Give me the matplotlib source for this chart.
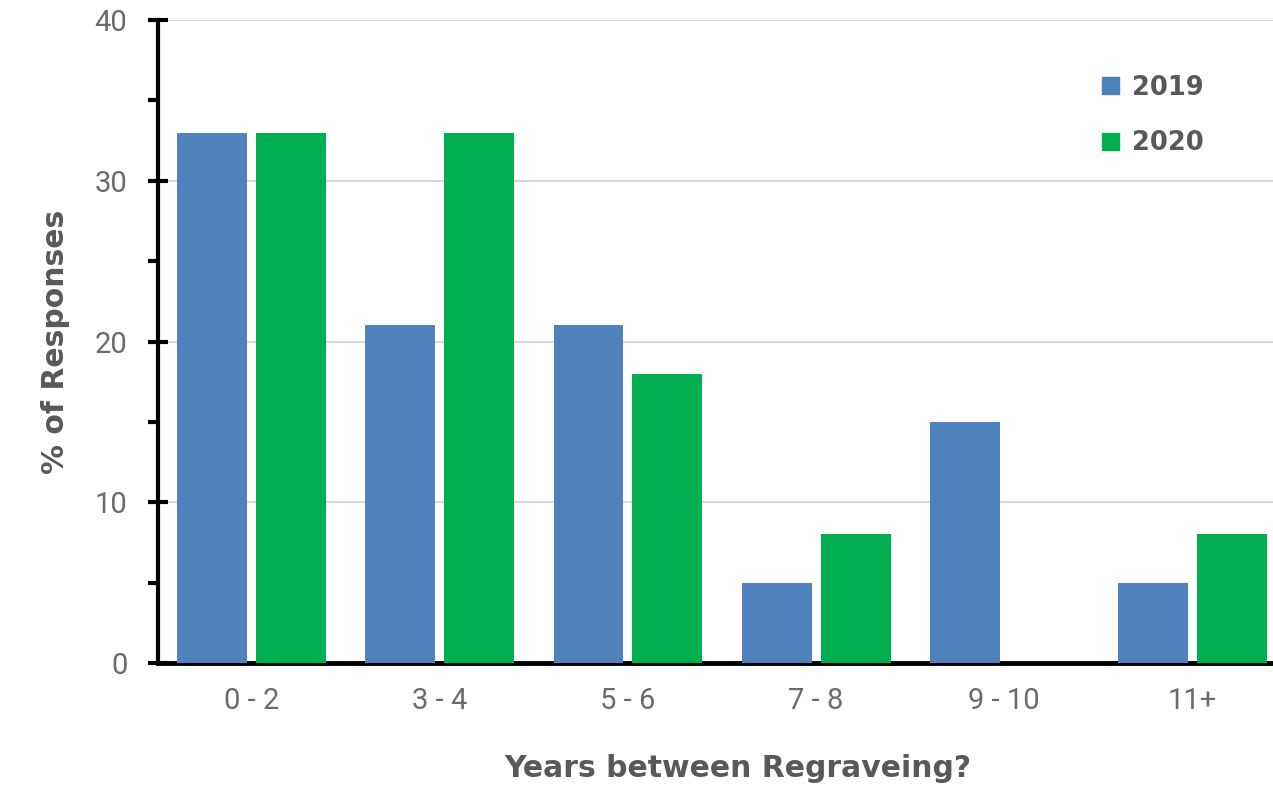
import numpy as np
import matplotlib.pyplot as plt
from matplotlib.patches import Patch
from matplotlib.ticker import MultipleLocator

# data
categories = ['0 - 2', '3 - 4', '5 - 6', '7 - 8', '9 - 10', '11+']
values_2019 = [33, 21, 21, 5, 15, 5]
values_2020 = [33, 33, 18, 8, 0, 8]

blue = '#4f81bd'
green = '#00b050'
grey = '#595959'

plt.rcParams['font.family'] = ['Roboto', 'DejaVu Sans']
bold_font = {'family': 'DejaVu Sans', 'weight': 'bold'}

fig = plt.figure(figsize=(12.73, 7.88), dpi=100)
ax = fig.add_axes([0.124, 0.1586, 0.876, 0.816])

x = np.arange(len(categories))
w = 0.372
ax.bar(x - 0.21, values_2019, width=w, color=blue, zorder=3)
ax.bar(x + 0.21, values_2020, width=w, color=green, zorder=3)

ax.set_xlim(-0.5, 5.43)
ax.set_ylim(0, 40)
ax.yaxis.set_major_locator(MultipleLocator(10))
ax.yaxis.set_minor_locator(MultipleLocator(5))
ax.grid(axis='y', color='#d9d9d9', linewidth=1.5, zorder=0)

for s in ['top', 'right']:
    ax.spines[s].set_visible(False)
ax.spines['left'].set_linewidth(3)
ax.spines['bottom'].set_linewidth(3.5)

ax.tick_params(axis='y', which='major', direction='inout', length=14, width=3,
               labelsize=21, labelcolor='#6b6b6b', pad=15)
ax.tick_params(axis='y', which='minor', direction='out', length=7, width=3)
ax.tick_params(axis='x', length=0, labelsize=21, labelcolor='#6b6b6b', pad=17)

ax.set_xticks(x)
ax.set_xticklabels(categories)

ax.set_ylabel('% of Responses', fontsize=21.5, color=grey, labelpad=18, **bold_font)
ax.set_xlabel('Years between Regraveing?', fontsize=21.5, color=grey, **bold_font)
# the original label sits a bit right of the axes centre
ax.xaxis.set_label_coords(0.52, -0.142)

handles = [Patch(color=blue, label='2019'), Patch(color=green, label='2020')]
leg = fig.legend(handles=handles, loc='upper left', bbox_to_anchor=(0.866, 0.905),
                 frameon=False, borderpad=0, borderaxespad=0,
                 handlelength=0.65, handleheight=0.65, handletextpad=0.5,
                 labelspacing=1.15, prop={'family': 'DejaVu Sans', 'size': 18.5, 'weight': 'bold'})
for t in leg.get_texts():
    t.set_color(grey)

fig.savefig('out.png', dpi=100)
